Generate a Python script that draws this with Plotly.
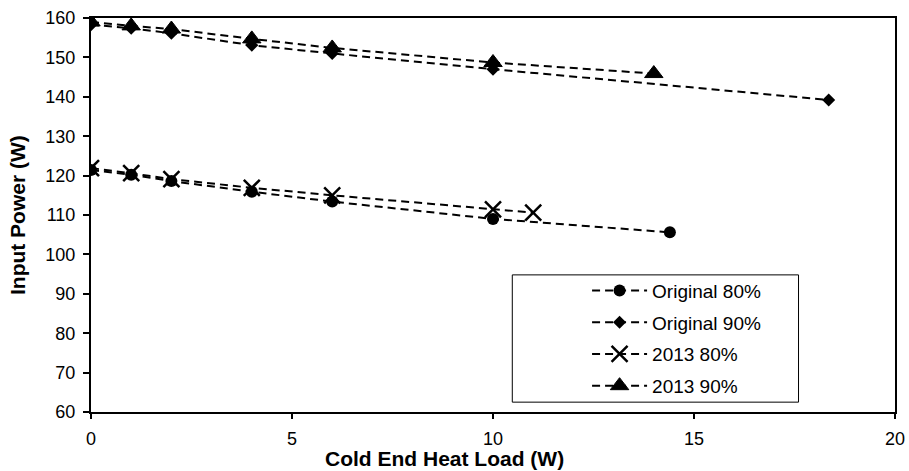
import plotly.graph_objects as go

# Cold-end heat load (W) and measured input power (W) per configuration
load_orig80 = [0, 1, 2, 4, 6, 10, 14.4]
power_orig80 = [121.4, 120.2, 118.6, 115.9, 113.4, 109.0, 105.6]

load_orig90 = [0, 1, 2, 4, 6, 10, 18.35]
power_orig90 = [158.3, 157.4, 156.1, 153.1, 151.0, 147.0, 139.2]

load_2013_80 = [0, 1, 2, 4, 6, 10, 11]
power_2013_80 = [121.9, 120.6, 119.1, 116.9, 115.0, 111.4, 110.6]

load_2013_90 = [0, 1, 2, 4, 6, 10, 14]
power_2013_90 = [159.0, 158.0, 157.2, 154.7, 152.4, 148.7, 145.9]

series_names = ["Original 80%", "Original 90%", "2013 80%", "2013 90%"]
x_ticks = [0, 5, 10, 15, 20]
y_ticks = [60, 70, 80, 90, 100, 110, 120, 130, 140, 150, 160]

font_family = "Liberation Sans, Arial, sans-serif"
dash_style = "8px,5px"

series = [
    (load_orig80, power_orig80, dict(symbol="circle", size=12)),
    (load_orig90, power_orig90, dict(symbol="diamond", size=10)),
    (load_2013_80, power_2013_80, dict(symbol="x-thin", size=16,
                                       line=dict(width=2.5, color="black"))),
    (load_2013_90, power_2013_90, dict(symbol="triangle-up", size=16,
                                       line=dict(width=1, color="black"))),
]

fig = go.Figure()
for i, (xs, ys, mk) in enumerate(series):
    fig.add_trace(go.Scatter(
        x=xs, y=ys, name=series_names[i], mode="lines+markers",
        line=dict(color="black", width=2, dash=dash_style),
        marker=dict(color="black", **mk),
        legendgroup=f"g{i}",
    ))

fig.update_layout(
    width=909, height=471,
    margin=dict(l=91, r=14, t=18, b=59),
    paper_bgcolor="white", plot_bgcolor="white",
    font=dict(family=font_family, size=18, color="black"),
    showlegend=True,
    legend=dict(
        x=0.617, y=0.356, xanchor="left", yanchor="top",
        bgcolor="rgba(0,0,0,0)", borderwidth=0,
        font=dict(size=19, family=font_family),
        itemwidth=55, tracegroupgap=4,
    ),
    shapes=[dict(
        type="rect", xref="paper", yref="paper",
        x0=0.524, x1=0.880, y0=0.025, y1=0.348,
        line=dict(color="black", width=1), fillcolor="rgba(0,0,0,0)",
    )],
    annotations=[
        dict(text="<b>Cold End Heat Load (W)</b>", xref="paper", yref="paper",
             x=0.44, y=-0.118, xanchor="center", yanchor="middle",
             showarrow=False, font=dict(size=21)),
        dict(text="<b>Input Power (W)</b>", xref="paper", yref="paper",
             x=-0.092, y=0.5, xanchor="center", yanchor="middle",
             textangle=-90, showarrow=False, font=dict(size=21)),
    ],
)

fig.update_xaxes(
    range=[0, 20], tickvals=x_ticks, ticktext=[str(v) for v in x_ticks],
    showgrid=False, zeroline=False, automargin=False,
    showline=True, linecolor="black", linewidth=2, mirror=True,
    ticks="outside", ticklen=5, tickwidth=2, tickcolor="black",
    tickfont=dict(size=18), ticklabelstandoff=4,
)
fig.update_yaxes(
    range=[60, 160], tickvals=y_ticks, ticktext=[str(v) for v in y_ticks],
    showgrid=False, zeroline=False, automargin=False,
    showline=True, linecolor="black", linewidth=2, mirror=True,
    ticks="outside", ticklen=6, tickwidth=2, tickcolor="black",
    tickfont=dict(size=18), ticklabelstandoff=4,
)

fig.write_html("out.html")
